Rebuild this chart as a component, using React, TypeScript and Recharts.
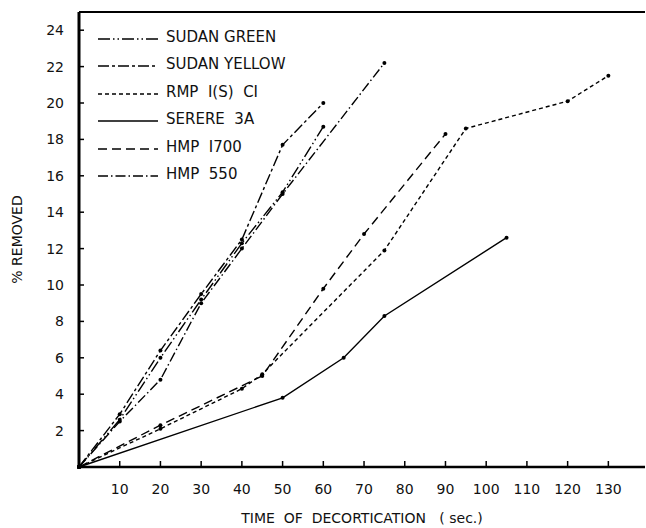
import React from 'react';
import { LineChart, Line, XAxis, YAxis, ReferenceLine } from 'recharts';

// seconds of decortication vs % removed
const sudanGreenT = [0, 10, 20, 30, 40, 50, 60];
const sudanGreenV = [0, 2.6, 6.0, 9.2, 12.3, 15.1, 18.7];
const sudanYellowT = [0, 10, 20, 30, 40, 50, 60];
const sudanYellowV = [0, 2.9, 6.4, 9.5, 12.5, 17.7, 20.0];
const rmpT = [0, 20, 40, 45, 75, 95, 120, 130];
const rmpV = [0, 2.1, 4.3, 5.1, 11.9, 18.6, 20.1, 21.5];
const sereneT = [0, 50, 65, 75, 105];
const sereneV = [0, 3.8, 6.0, 8.3, 12.6];
const hmp1700T = [0, 20, 45, 60, 70, 90];
const hmp1700V = [0, 2.3, 5.0, 9.8, 12.8, 18.3];
const hmp550T = [0, 10, 20, 30, 40, 50, 75];
const hmp550V = [0, 2.5, 4.8, 9.0, 12.0, 15.0, 22.2];

const xTicks = [10, 20, 30, 40, 50, 60, 70, 80, 90, 100, 110, 120, 130];
const yTicks = [2, 4, 6, 8, 10, 12, 14, 16, 18, 20, 22, 24];

const toPts = (t: number[], v: number[]) => t.map((x, i) => ({ x, y: v[i] }));

const SERIES = [
  { name: 'SUDAN GREEN', data: toPts(sudanGreenT, sudanGreenV), dash: '12 3 1.5 3 1.5 3' },
  { name: 'SUDAN YELLOW', data: toPts(sudanYellowT, sudanYellowV), dash: '11 3 3 3' },
  { name: 'RMP  I(S)  CI', data: toPts(rmpT, rmpV), dash: '4 3' },
  { name: 'SERERE  3A', data: toPts(sereneT, sereneV), dash: undefined },
  { name: 'HMP  I700', data: toPts(hmp1700T, hmp1700V), dash: '9 5' },
  { name: 'HMP  550', data: toPts(hmp550T, hmp550V), dash: '10 3 1.5 3' },
];

const FONT = '"DejaVu Sans", sans-serif';

const XTick = (props: any) => {
  const { x, y, payload } = props;
  return (
    <g>
      <line x1={x} y1={y} x2={x} y2={y - 6} stroke="#000" strokeWidth={1.5} />
      <text x={x} y={y + 27} textAnchor="middle" fontSize={14} fontFamily={FONT} fill="#111">
        {payload.value}
      </text>
    </g>
  );
};

const YTick = (props: any) => {
  const { x, y, payload } = props;
  return (
    <g>
      <line x1={x} y1={y} x2={x + 5} y2={y} stroke="#000" strokeWidth={1.5} />
      <text x={x - 15} y={y + 5} textAnchor="end" fontSize={14} fontFamily={FONT} fill="#111">
        {payload.value}
      </text>
    </g>
  );
};

const LegendBox = () => (
  <div style={{ position: 'absolute', top: 23, left: 96, fontFamily: FONT, fontSize: 15, color: '#111' }}>
    {SERIES.map((s) => (
      <div key={s.name} style={{ display: 'flex', alignItems: 'center', height: 27.5 }}>
        <svg width={64} height={12} style={{ marginRight: 6 }}>
          <line x1={2} y1={8} x2={62} y2={8} stroke="#000" strokeWidth={1.5} strokeDasharray={s.dash} />
        </svg>
        <span style={{ whiteSpace: 'pre' }}>{s.name}</span>
      </div>
    ))}
  </div>
);

export default function App() {
  return (
    <div style={{ position: 'absolute', left: 0, top: 0, width: 646, height: 528, background: '#fff' }}>
      <LineChart width={646} height={528} margin={{ top: 12, right: 1, left: 0, bottom: 0 }}>
        <XAxis
          dataKey="x"
          type="number"
          domain={[0, 139]}
          ticks={xTicks}
          interval={0}
          tick={<XTick />}
          tickLine={false}
          tickSize={0}
          tickMargin={0}
          axisLine={{ stroke: '#000', strokeWidth: 2.5 }}
          height={61}
          allowDuplicatedCategory={false}
        />
        <YAxis
          type="number"
          domain={[0, 25]}
          ticks={yTicks}
          interval={0}
          tick={<YTick />}
          tickLine={false}
          tickSize={0}
          tickMargin={0}
          axisLine={{ stroke: '#000', strokeWidth: 3 }}
          width={79}
          label={{
            value: '% REMOVED',
            angle: -90,
            position: 'insideLeft',
            offset: 17,
            style: { fontFamily: FONT, fontSize: 14, fill: '#111', textAnchor: 'middle' },
          }}
        />
        <ReferenceLine y={25} stroke="#000" strokeWidth={2} />
        {SERIES.map((s) => (
          <Line
            key={s.name}
            data={s.data}
            dataKey="y"
            name={s.name}
            type="linear"
            stroke="#000"
            strokeWidth={1.4}
            strokeDasharray={s.dash}
            dot={{ r: 2, fill: '#000', stroke: '#000', strokeWidth: 0 }}
            isAnimationActive={false}
          />
        ))}
      </LineChart>
      <LegendBox />
      <div
        style={{
          position: 'absolute',
          top: 510,
          left: 79,
          width: 566,
          textAlign: 'center',
          fontFamily: FONT,
          fontSize: 14,
          color: '#111',
          whiteSpace: 'pre',
        }}
      >
        {'TIME  OF  DECORTICATION   ( sec.)'}
      </div>
    </div>
  );
}
